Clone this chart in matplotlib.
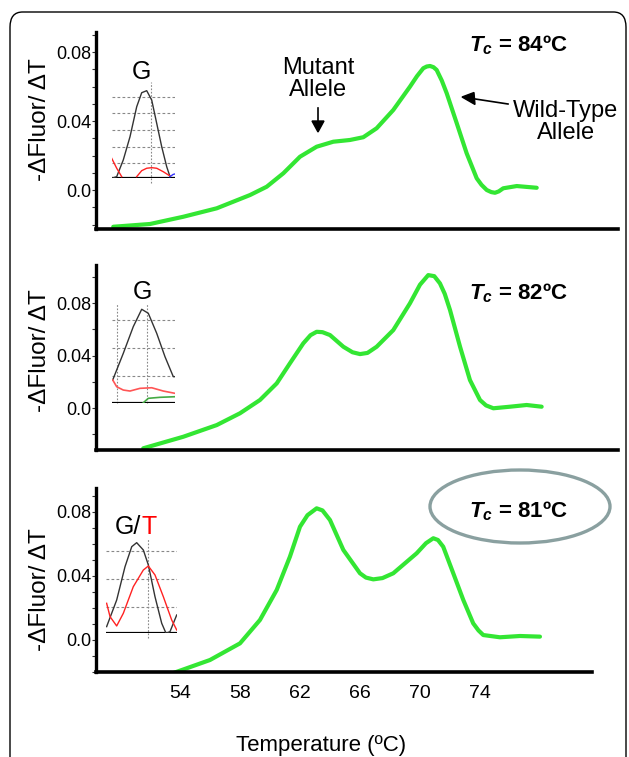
import numpy as np
import matplotlib.pyplot as plt
from matplotlib.patches import FancyBboxPatch, Ellipse
from matplotlib.ticker import MultipleLocator

plt.rcParams['font.family'] = ['Liberation Sans', 'DejaVu Sans']
plt.rcParams['mathtext.fontset'] = 'custom'
plt.rcParams['mathtext.rm'] = 'Liberation Sans'
plt.rcParams['mathtext.it'] = 'Liberation Sans:italic'
plt.rcParams['mathtext.bf'] = 'Liberation Sans:bold'
plt.rcParams['mathtext.bfit'] = 'Liberation Sans:bold:italic'

W, H = 629, 757

# melt curves (-dF/dT)
temp_84 = [49.55, 52.0, 54.22, 56.45, 58.67, 59.78, 60.89, 62.0, 63.11, 64.22, 65.33,
           66.22, 67.11, 68.22, 69.33, 69.8, 70.22, 70.45, 70.67, 70.9, 71.11, 71.45, 71.78,
           72.45, 73.11, 73.78, 74.1, 74.45, 74.75, 75.0, 75.25, 75.55, 76.45, 77.78]
dfdt_84 = [-0.0213, -0.0197, -0.0155, -0.0106, -0.0029, 0.0019, 0.0097, 0.0193, 0.0251,
           0.0280, 0.0290, 0.0306, 0.0358, 0.0464, 0.0599, 0.0660, 0.0706, 0.0716, 0.0719,
           0.0712, 0.0696, 0.0635, 0.0561, 0.0387, 0.0213, 0.0068, 0.0030, 0.0, -0.0012,
           -0.0016, -0.0008, 0.0010, 0.0023, 0.0013]

temp_82 = [51.55, 54.22, 56.45, 58.0, 59.33, 60.45, 61.33, 62.22, 62.7, 63.11, 63.5, 64.0,
           64.89, 65.5, 66.0, 66.5, 67.11, 68.22, 69.33, 70.0, 70.55, 70.95, 71.33, 71.65,
           72.0, 72.67, 73.33, 74.0, 74.4, 74.89, 76.0, 77.11, 78.11]
dfdt_82 = [-0.0307, -0.0219, -0.0130, -0.0040, 0.0061, 0.0188, 0.0341, 0.0493, 0.0555,
           0.0581, 0.0578, 0.0556, 0.0467, 0.0425, 0.0411, 0.0420, 0.0467, 0.0594, 0.0798,
           0.0940, 0.1013, 0.1005, 0.0950, 0.0870, 0.0747, 0.0467, 0.0213, 0.0061, 0.0020,
           -0.0002, 0.0010, 0.0023, 0.0010]

temp_81 = [53.6, 56.0, 58.0, 59.33, 60.45, 61.33, 62.0, 62.5, 63.11, 63.5, 64.0, 64.89,
           66.0, 66.4, 66.89, 67.5, 68.22, 69.78, 70.4, 70.89, 71.2, 71.55, 72.22, 72.89,
           73.55, 73.9, 74.22, 75.33, 76.67, 78.0]
dfdt_81 = [-0.0205, -0.0125, -0.0021, 0.0125, 0.0313, 0.0521, 0.0708, 0.0780, 0.0823,
           0.0810, 0.0750, 0.0563, 0.0417, 0.0390, 0.0379, 0.0387, 0.0417, 0.0542, 0.0605,
           0.0636, 0.0625, 0.0583, 0.0417, 0.0250, 0.0104, 0.0060, 0.0031, 0.0017, 0.0025,
           0.0021]

x_ticks = [54, 58, 62, 66, 70, 74]
y_ticks = [0.0, 0.04, 0.08]
tc_labels = ["84ºC", "82ºC", "81ºC"]

# small sequencing insets (normalised units)
ins1_black_x = [0.0, 0.079, 0.183, 0.289, 0.395, 0.474, 0.553, 0.632, 0.711, 0.79, 0.869, 0.921]
ins1_black_y = [0.0, 0.017, 0.19, 0.43, 0.741, 0.886, 0.907, 0.81, 0.569, 0.327, 0.12, 0.017]
ins1_red1_x = [0.0, 0.079, 0.158]
ins1_red1_y = [0.207, 0.104, 0.017]
ins1_red2_x = [0.395, 0.474, 0.553, 0.632, 0.711, 0.815, 0.921]
ins1_red2_y = [0.017, 0.079, 0.104, 0.11, 0.104, 0.068, 0.024]
ins1_blue_x = [0.921, 0.97, 1.0]
ins1_blue_y = [0.017, 0.04, 0.045]
ins1_hgrid = [0.155, 0.327, 0.5, 0.673, 0.845]
ins1_vgrid = [0.62]

ins2_black_x = [0.016, 0.183, 0.341, 0.474, 0.578, 0.711, 0.842, 0.973, 1.0]
ins2_black_y = [0.228, 0.495, 0.763, 0.937, 0.897, 0.696, 0.461, 0.261, 0.261]
ins2_red_x = [0.016, 0.079, 0.183, 0.289, 0.447, 0.632, 0.815, 1.0]
ins2_red_y = [0.228, 0.16, 0.127, 0.117, 0.144, 0.15, 0.117, 0.094]
ins2_green_x = [0.5, 0.578, 0.763, 1.0]
ins2_green_y = [0.0, 0.044, 0.054, 0.06]
ins2_hgrid = [0.268, 0.552, 0.83]
ins2_vgrid = [0.079, 0.562]

ins3_black_x = [0.009, 0.151, 0.269, 0.364, 0.434, 0.528, 0.599, 0.693, 0.788, 0.849, 0.905, 1.0]
ins3_black_y = [0.07, 0.349, 0.699, 0.909, 0.951, 0.874, 0.717, 0.384, 0.105, 0.0, 0.017, 0.192]
ins3_red_x = [0.009, 0.057, 0.151, 0.245, 0.386, 0.528, 0.599, 0.693, 0.811, 0.929, 1.0]
ins3_red_y = [0.315, 0.175, 0.077, 0.21, 0.489, 0.664, 0.706, 0.612, 0.384, 0.14, 0.035]
ins3_hgrid = [0.273, 0.57, 0.867]
ins3_vgrid = [0.599]


def px_rect(x0, y0, x1, y1):
    return [x0 / W, 1 - y1 / H, (x1 - x0) / W, (y1 - y0) / H]


def fx(x):
    return x / W


def fy(y):
    return 1 - y / H


fig = plt.figure(figsize=(W / 100, H / 100), dpi=100)

border = FancyBboxPatch((fx(10), -0.05), fx(616), fy(12) + 0.05,
                        boxstyle="round,pad=0,rounding_size=0.02",
                        transform=fig.transFigure, fill=False, lw=1.0, ec='black')
fig.patches.append(border)

green = '#33e633'


def melt_panel(rect, temp, dfdt, ylim, xmax, minor, show_x):
    ax = fig.add_axes(rect)
    ax.plot(temp, dfdt, color=green, lw=3.0, solid_joinstyle='round', solid_capstyle='round')
    ax.set_xlim(48.4, xmax)
    ax.set_ylim(*ylim)
    for s in ['top', 'right']:
        ax.spines[s].set_visible(False)
    ax.spines['left'].set_linewidth(2.4)
    ax.spines['bottom'].set_linewidth(2.6)
    ax.set_yticks(y_ticks)
    ax.set_yticklabels(["0.0", "0.04", "0.08"])
    ax.yaxis.set_minor_locator(MultipleLocator(minor))
    ax.tick_params(axis='y', which='both', direction='out', length=3, width=0.8,
                   labelsize=13, pad=0.5, color='#333333')
    ax.set_xticks(x_ticks)
    if show_x:
        ax.set_xticklabels([str(t) for t in x_ticks], fontsize=14)
    else:
        ax.set_xticklabels([])
    ax.tick_params(axis='x', length=0, pad=9)
    ax.patch.set_alpha(0)
    return ax


ax1 = melt_panel(px_rect(96, 32, 618, 229), temp_84, dfdt_84, (-0.0226, 0.0916), 83.2, 0.01, False)
ax2 = melt_panel(px_rect(96, 265, 618, 450), temp_82, dfdt_82, (-0.032, 0.109), 83.2, 0.02, False)
ax3 = melt_panel(px_rect(96, 488, 592, 672), temp_81, dfdt_81, (-0.02, 0.095), 81.47, 0.01, True)

for yc in [120, 351, 590]:
    fig.text(fx(40), fy(yc), "-ΔFluor/ ΔT", rotation=90, ha='center', va='center', fontsize=17.5)

fig.text(fx(321), fy(745), "Temperature (ºC)", ha='center', va='center', fontsize=16)

for lab, yc in zip(tc_labels, [45, 293, 511]):
    fig.text(fx(469), fy(yc), r"$\mathbfit{T}_{\mathbfit{c}}$" + " = " + lab,
             ha='left', va='center', fontsize=16, fontweight='bold')

ell = Ellipse((fx(520), fy(506.5)), fx(180), 73 / H, transform=fig.transFigure,
              fill=False, ec='#8aa0a0', lw=2.4)
fig.patches.append(ell)

fig.text(fx(318), fy(79), "Mutant\nAllele", ha='center', va='center', fontsize=17,
         linespacing=1.05)
fig.add_artist(plt.Line2D([fx(318), fx(318)], [fy(108), fy(122)], color='black', lw=1.2))
fig.patches.append(plt.Polygon([[fx(312), fy(121)], [fx(324), fy(121)], [fx(318), fy(132)]],
                               closed=True, color='black', transform=fig.transFigure))

fig.text(fx(566), fy(122), "Wild-Type\nAllele", ha='center', va='center', fontsize=17,
         linespacing=1.05)
fig.add_artist(plt.Line2D([fx(508), fx(472)], [fy(104), fy(98.5)], color='black', lw=1.2))
fig.patches.append(plt.Polygon([[fx(474), fy(92.5)], [fx(475), fy(104.5)], [fx(462), fy(97)]],
                               closed=True, color='black', transform=fig.transFigure))


def inset(rect, hgrid, vgrid, vbelow):
    ax = fig.add_axes(rect)
    ax.set_xlim(0, 1)
    ax.set_ylim(0, 1)
    ax.axis('off')
    for h in hgrid:
        ax.plot([0, 1], [h, h], color='#888888', lw=0.8, ls=(0, (2.5, 2)))
    for v in vgrid:
        ax.plot([v, v], [vbelow, 1], color='#888888', lw=0.8, ls=(0, (1.5, 1.5)), clip_on=False)
    ax.plot([0, 1], [0, 0], color='black', lw=1.6)
    return ax


in1 = inset(px_rect(111.7, 81.7, 175, 178.3), ins1_hgrid, ins1_vgrid, -0.05)
in1.plot(ins1_black_x, ins1_black_y, color='#333333', lw=1.0)
in1.plot(ins1_red1_x, ins1_red1_y, color='#ff2222', lw=1.0)
in1.plot(ins1_red2_x, ins1_red2_y, color='#ff2222', lw=1.0)
in1.plot(ins1_blue_x, ins1_blue_y, color='#3333ff', lw=1.0)
fig.text(fx(141.7), fy(72), "G", ha='center', va='center', fontsize=18)

in2 = inset(px_rect(111.7, 303, 175, 402.7), ins2_hgrid, ins2_vgrid, 0)
in2.plot(ins2_black_x, ins2_black_y, color='#333333', lw=1.0)
in2.plot(ins2_red_x, ins2_red_y, color='#ff5555', lw=1.2)
in2.plot(ins2_green_x, ins2_green_y, color='#44aa44', lw=1.2)
fig.text(fx(142.3), fy(292), "G", ha='center', va='center', fontsize=18)

in3 = inset(px_rect(106, 538, 176.7, 633.3), ins3_hgrid, ins3_vgrid, -0.05)
in3.plot(ins3_black_x, ins3_black_y, color='#333333', lw=1.0)
in3.plot(ins3_red_x, ins3_red_y, color='#ff2222', lw=1.0)
fig.text(fx(141), fy(527), "G/", ha='right', va='center', fontsize=18)
fig.text(fx(141), fy(527), "T", ha='left', va='center', fontsize=18, color='red')

fig.savefig("out.png", dpi=100)
